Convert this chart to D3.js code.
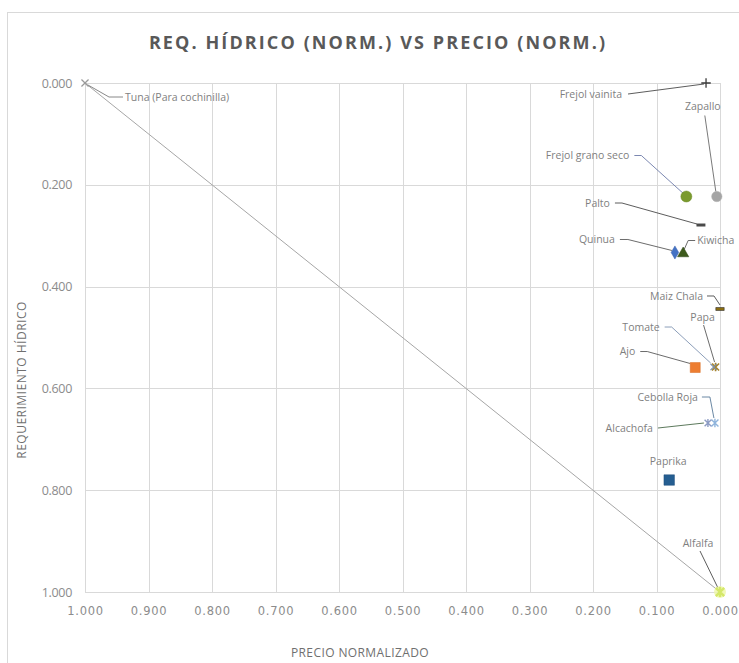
<!DOCTYPE html>
<html>
<head>
<meta charset="utf-8">
<script src="https://cdn.jsdelivr.net/npm/d3@7"></script>
<style>
  html, body { margin: 0; padding: 0; background: #fff; }
  svg { display: block; }
</style>
</head>
<body>
<svg id="chart" width="739" height="663"></svg>
<script>
// Cultivos: precio normalizado (x) y requerimiento hídrico normalizado (y)
const cultivos = ["Tuna (Para cochinilla)", "Frejol vainita", "Zapallo", "Frejol grano seco",
  "Palto", "Quinua", "Kiwicha", "Maiz Chala", "Papa", "Tomate", "Ajo",
  "Cebolla Roja", "Alcachofa", "Paprika", "Alfalfa"];
const precioNorm = [1.000, 0.022, 0.005, 0.053, 0.030, 0.071, 0.058, 0.000, 0.007, 0.010, 0.039,
  0.008, 0.019, 0.080, 0.000];
const reqHidricoNorm = [0.000, 0.000, 0.223, 0.223, 0.279, 0.333, 0.335, 0.444, 0.558, 0.558, 0.559,
  0.668, 0.668, 0.780, 1.000];

// Línea de referencia entre los extremos
const diagonalX = [1.0, 0.0];
const diagonalY = [0.0, 1.0];

const xTicks = [1.0, 0.9, 0.8, 0.7, 0.6, 0.5, 0.4, 0.3, 0.2, 0.1, 0.0];
const yTicks = [0.0, 0.2, 0.4, 0.6, 0.8, 1.0];

const titulo = "REQ. HÍDRICO (NORM.) VS PRECIO (NORM.)";
const tituloX = "PRECIO NORMALIZADO";
const tituloY = "REQUERIMIENTO HÍDRICO";

// ---- layout ----
const W = 739, H = 663;
const plot = { left: 85, right: 720, top: 83, bottom: 592 };

const svg = d3.select("#chart");
svg.append("rect").attr("width", W).attr("height", H).attr("fill", "#fff");
svg.append("rect")
  .attr("x", 7.5).attr("y", 12.5).attr("width", W + 20).attr("height", H + 20)
  .attr("fill", "none").attr("stroke", "#d9d9d9");

const x = d3.scaleLinear().domain([1, 0]).range([plot.left, plot.right]);
const y = d3.scaleLinear().domain([0, 1]).range([plot.top, plot.bottom]);

// gridlines
const grid = svg.append("g").attr("stroke", "#d9d9d9").attr("stroke-width", 1).attr("shape-rendering", "crispEdges");
grid.selectAll("line.v").data(xTicks).join("line").attr("class", "v")
  .attr("x1", d => Math.round(x(d)) + 0.5).attr("x2", d => Math.round(x(d)) + 0.5)
  .attr("y1", plot.top).attr("y2", plot.bottom);
grid.selectAll("line.h").data(yTicks).join("line").attr("class", "h")
  .attr("y1", d => Math.round(y(d)) + 0.5).attr("y2", d => Math.round(y(d)) + 0.5)
  .attr("x1", plot.left).attr("x2", plot.right);

// axes (labels only)
const fmt = d3.format(".3f");
const xAxis = d3.axisBottom(x).tickValues(xTicks).tickFormat(fmt).tickSize(0).tickPadding(15);
const gx = svg.append("g").attr("transform", `translate(0,${plot.bottom})`).call(xAxis);
gx.select(".domain").remove();
gx.selectAll("text")
  .attr("font-family", "DejaVu Sans").attr("font-size", 11.5).attr("letter-spacing", 0.7)
  .attr("fill", "#8c8c8c");

const yAxis = d3.axisLeft(y).tickValues(yTicks).tickFormat(fmt).tickSize(0).tickPadding(13);
const gy = svg.append("g").attr("transform", `translate(${plot.left},0)`).call(yAxis);
gy.select(".domain").remove();
gy.selectAll("text")
  .attr("font-family", "Open Sans").attr("font-size", 12.5).attr("letter-spacing", -0.3)
  .attr("fill", "#8c8c8c");

// titles
svg.append("text").text(titulo)
  .attr("x", 378).attr("y", 49).attr("text-anchor", "middle")
  .attr("font-family", "Open Sans").attr("font-weight", "bold").attr("font-size", 18)
  .attr("letter-spacing", 2.1).attr("fill", "#595959");
svg.append("text").text(tituloX)
  .attr("x", 360).attr("y", 657).attr("text-anchor", "middle")
  .attr("font-family", "Open Sans").attr("font-size", 12).attr("letter-spacing", 0.4)
  .attr("fill", "#6f6f6f");
svg.append("text").text(tituloY)
  .attr("transform", "translate(26,380) rotate(-90)").attr("text-anchor", "middle")
  .attr("font-family", "Open Sans").attr("font-size", 12).attr("letter-spacing", 0.5)
  .attr("fill", "#6f6f6f");

// reference diagonal
const linea = d3.line().x(d => x(d[0])).y(d => y(d[1]));
svg.append("path")
  .datum(d3.zip(diagonalX, diagonalY))
  .attr("d", linea).attr("fill", "none").attr("stroke", "#a6a6a6").attr("stroke-width", 1);

// custom marker shapes
const shapes = {
  times: { draw(c, s) { const r = Math.sqrt(s) / 2; c.moveTo(-r, -r); c.lineTo(r, r); c.moveTo(r, -r); c.lineTo(-r, r); } },
  plus: { draw(c, s) { const r = Math.sqrt(s) / 2; c.moveTo(-r, 0); c.lineTo(r, 0); c.moveTo(0, -r); c.lineTo(0, r); } },
  star: { draw(c, s) { const r = Math.sqrt(s) / 2;
    c.moveTo(-r, -r); c.lineTo(r, r); c.moveTo(r, -r); c.lineTo(-r, r); c.moveTo(0, -r * 1.2); c.lineTo(0, r * 1.2); } },
  dash: { draw(c, s) { const w = Math.sqrt(s); c.rect(-w / 2, -1.5, w, 3); } },
  circle: d3.symbolCircle, square: d3.symbolSquare, diamond: d3.symbolDiamond, triangle: d3.symbolTriangle
};

const estilos = {
  "Tuna (Para cochinilla)": { shape: "times", size: 50, fill: "none", stroke: "#9a9a9a", sw: 1.3 },
  "Frejol vainita": { shape: "plus", size: 90, fill: "none", stroke: "#3a3a3a", sw: 1.3 },
  "Zapallo": { shape: "circle", size: 85, fill: "#a5a5a5", stroke: "#b5b5b5", sw: 0.5 },
  "Frejol grano seco": { shape: "circle", size: 95, fill: "#7a9a2e", stroke: "#6a8a24", sw: 0.5 },
  "Palto": { shape: "dash", size: 80, fill: "#4a4a4a", stroke: "none", sw: 0 },
  "Quinua": { shape: "diamond", size: 50, fill: "#4472c4", stroke: "#3b62ad", sw: 0.5 },
  "Kiwicha": { shape: "triangle", size: 55, fill: "#3d5a1c", stroke: "#2e4614", sw: 0.5 },
  "Maiz Chala": { shape: "dash", size: 70, fill: "#8a6d10", stroke: "#333", sw: 0.6 },
  "Papa": { shape: "star", size: 50, fill: "none", stroke: "#a8842a", sw: 1.6 },
  "Tomate": { shape: "times", size: 40, fill: "none", stroke: "#7c8fa8", sw: 1.2 },
  "Ajo": { shape: "square", size: 100, fill: "#ed7d31", stroke: "#d86b22", sw: 0.5 },
  "Cebolla Roja": { shape: "star", size: 50, fill: "none", stroke: "#8fb4dc", sw: 1.4 },
  "Alcachofa": { shape: "star", size: 45, fill: "none", stroke: "#8d9cc4", sw: 1.4 },
  "Paprika": { shape: "square", size: 110, fill: "#255e91", stroke: "#1f4f7c", sw: 0.5 },
  "Alfalfa": { shape: "star", size: 70, fill: "none", stroke: "#d5e86a", sw: 2.4 }
};

// label offsets (px from the marker) and leader line bends
const etiquetas = {
  "Tuna (Para cochinilla)": { dx: 40, dy: 14, anchor: "start", leader: [[3, 2], [24, 14], [38, 14]], color: "#7a7a7a" },
  "Frejol vainita": { dx: -84, dy: 11, anchor: "end", leader: [[-78, 11], [-2, 1]], color: "#4a4a4a" },
  "Zapallo": { dx: -14, dy: -90, anchor: "middle", leader: [[-12, -81], [-1, -5]], color: "#6a6a6a" },
  "Frejol grano seco": { dx: -57, dy: -41, anchor: "end", leader: [[-52, -41], [-45, -41], [-3, -3]], color: "#6d7aa8" },
  "Palto": { dx: -91, dy: -22, anchor: "end", leader: [[-86, -22], [-79, -22], [-4, -1]], color: "#4a4a4a" },
  "Quinua": { dx: -60, dy: -13, anchor: "end", leader: [[-55, -13], [-47, -13], [-3, -2]], color: "#5a5a5a" },
  "Kiwicha": { dx: 14, dy: -13, anchor: "start", leader: [[12, -13], [5, -13], [1, -4]], color: "#5a5a5a" },
  "Maiz Chala": { dx: -17, dy: -13, anchor: "end", leader: [[-13, -13], [-6, -13], [0, -4]], color: "#4a4a4a" },
  "Papa": { dx: -13, dy: -50, anchor: "middle", leader: [[-12, -42], [-1, -5]], color: "#5a5a5a" },
  "Tomate": { dx: -54, dy: -40, anchor: "end", leader: [[-49, -40], [-42, -40], [-3, -4]], color: "#7e92b0" },
  "Ajo": { dx: -60, dy: -16, anchor: "end", leader: [[-55, -16], [-48, -16], [-5, -4]], color: "#5a5a5a" },
  "Cebolla Roja": { dx: -17, dy: -26, anchor: "end", leader: [[-13, -26], [-5, -26], [-1, -5]], color: "#5a7a9a" },
  "Alcachofa": { dx: -55, dy: 5, anchor: "end", leader: [[-50, 5], [-4, 0]], color: "#4a6a4a" },
  "Paprika": { dx: -1, dy: -19, anchor: "middle", leader: null, color: "#5a5a5a" },
  "Alfalfa": { dx: -22, dy: -49, anchor: "middle", leader: [[-20, -41], [-2, -4]], color: "#4a4a4a" }
};

const puntos = cultivos.map((c, i) => ({ nombre: c, px: precioNorm[i], ry: reqHidricoNorm[i] }));

// leader lines
const gLead = svg.append("g");
puntos.forEach(p => {
  const e = etiquetas[p.nombre];
  if (!e.leader) return;
  const cx = x(p.px), cy = y(p.ry);
  gLead.append("path")
    .attr("d", d3.line()(e.leader.map(([a, b]) => [cx + a, cy + b])))
    .attr("fill", "none").attr("stroke", e.color).attr("stroke-width", 0.9);
});

// glow under Alfalfa marker
const pAlf = puntos.find(p => p.nombre === "Alfalfa");
svg.append("circle").attr("cx", x(pAlf.px)).attr("cy", y(pAlf.ry)).attr("r", 6)
  .attr("fill", "#eef6a8").attr("opacity", 0.8);

// markers
svg.append("g").selectAll("path").data(puntos).join("path")
  .attr("transform", d => `translate(${x(d.px)},${y(d.ry)})`)
  .attr("d", d => d3.symbol().type(shapes[estilos[d.nombre].shape]).size(estilos[d.nombre].size)())
  .attr("fill", d => estilos[d.nombre].fill)
  .attr("stroke", d => estilos[d.nombre].stroke)
  .attr("stroke-width", d => estilos[d.nombre].sw);

// data labels
svg.append("g").selectAll("text").data(puntos).join("text")
  .text(d => d.nombre)
  .attr("x", d => x(d.px) + etiquetas[d.nombre].dx)
  .attr("y", d => y(d.ry) + etiquetas[d.nombre].dy)
  .attr("dy", "0.35em")
  .attr("text-anchor", d => etiquetas[d.nombre].anchor)
  .attr("font-family", "Open Sans").attr("font-size", 10.5)
  .attr("letter-spacing", 0)
  .attr("fill", "#7f7f7f");
</script>
</body>
</html>
